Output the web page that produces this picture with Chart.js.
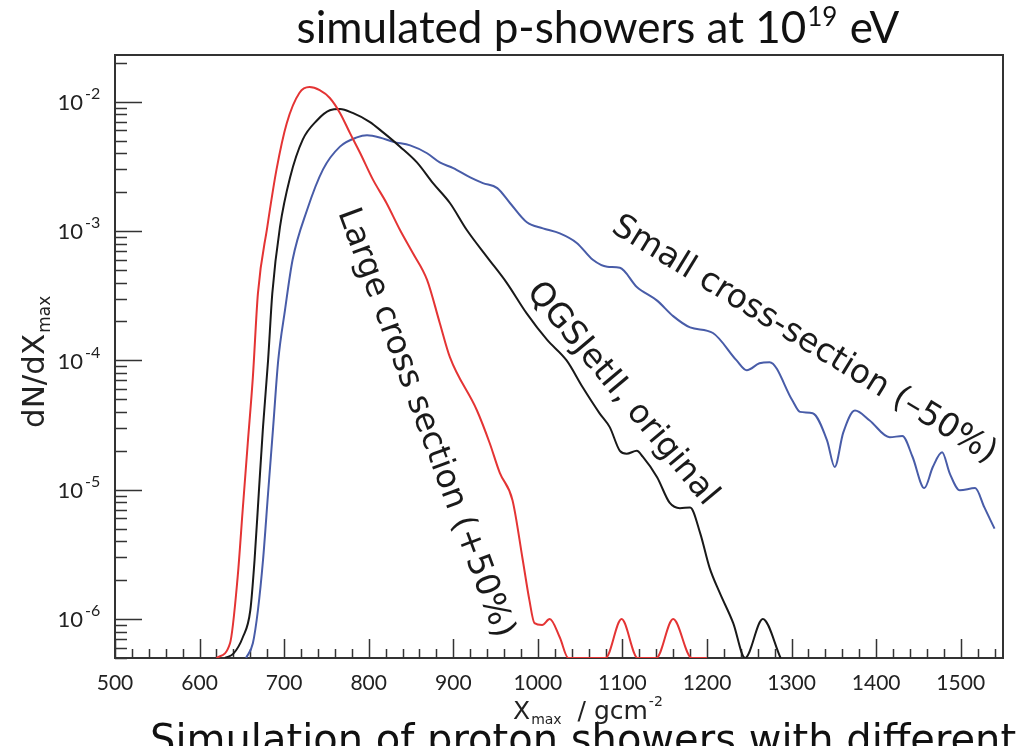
<!DOCTYPE html>
<html>
<head>
<meta charset="utf-8">
<script src="https://cdn.jsdelivr.net/npm/chart.js@4.4.1/dist/chart.umd.min.js"></script>
<style>
  html, body { margin: 0; padding: 0; background: #fff; }
  canvas { display: block; }
</style>
</head>
<body>
<canvas id="grafico" width="1016" height="746"></canvas>
<script>
// Large cross section (+50%)
var xRed = [620, 636, 645, 651, 657, 663, 669, 680, 691, 703, 718, 730, 742, 754, 766, 778, 790, 805, 821, 837, 852, 869, 884, 896, 928, 943, 955, 970, 982, 990, 996, 1005, 1014, 1026, 1036, 1080, 1099, 1118, 1140, 1160, 1182, 1200];
var yRed = [5e-7, 6.5e-7, 2.1e-6, 7e-6, 2.3e-5, 7.4e-5, 3.3e-4, 1.07e-3, 3.0e-3, 6.8e-3, 1.17e-2, 1.30e-2, 1.23e-2, 1.07e-2, 8.2e-3, 5.7e-3, 4.0e-3, 2.5e-3, 1.65e-3, 1.02e-3, 6.8e-4, 4.2e-4, 1.95e-4, 1.06e-4, 4.1e-5, 2.3e-5, 1.35e-5, 8.3e-6, 2.9e-6, 1.4e-6, 9.3e-7, 9.0e-7, 1.0e-6, 7.2e-7, 5e-7, 5e-7, 1.0e-6, 5e-7, 5e-7, 1.0e-6, 5e-7, 5e-7];

// QGSJetII, original
var xBlack = [630, 640, 651, 660, 665, 670, 675, 681, 686, 695, 707, 722, 739, 754, 766, 781, 801, 817, 837, 857, 876, 896, 916, 940, 963, 987, 1011, 1034, 1053, 1073, 1085, 1097, 1105, 1117, 1124, 1141, 1156, 1168, 1180, 1192, 1203, 1215, 1231, 1245, 1266, 1287];
var yBlack = [5e-7, 5.4e-7, 7.2e-7, 1.17e-6, 2.85e-6, 9.4e-6, 3.05e-5, 1.0e-4, 3.3e-4, 1.07e-3, 2.6e-3, 5.1e-3, 7.2e-3, 8.6e-3, 8.8e-3, 8.2e-3, 7.0e-3, 5.8e-3, 4.5e-3, 3.4e-3, 2.35e-3, 1.65e-3, 1.02e-3, 6.3e-4, 4.0e-4, 2.3e-4, 1.44e-4, 1.0e-4, 6.2e-5, 3.9e-5, 3.05e-5, 2.0e-5, 1.9e-5, 2.0e-5, 1.8e-5, 1.25e-5, 7.9e-6, 7.2e-6, 7.3e-6, 4.6e-6, 2.5e-6, 1.6e-6, 9.3e-7, 5e-7, 1.0e-6, 5e-7];

// Small cross-section (-50%)
var xBlue = [655, 663, 669, 675, 681, 687, 693, 701, 710, 727, 746, 766, 786, 798, 813, 829, 849, 869, 884, 900, 920, 935, 952, 967, 987, 1006, 1026, 1046, 1065, 1082, 1097, 1117, 1141, 1160, 1180, 1207, 1235, 1247, 1262, 1274, 1301, 1310, 1325, 1342, 1351, 1361, 1375, 1392, 1416, 1431, 1443, 1457, 1467, 1478, 1487, 1499, 1517, 1528, 1540];
var yBlue = [5e-7, 6.5e-7, 1.17e-6, 2.85e-6, 9.4e-6, 3.05e-5, 1.0e-4, 2.45e-4, 6.0e-4, 1.45e-3, 3.0e-3, 4.5e-3, 5.3e-3, 5.5e-3, 5.3e-3, 4.9e-3, 4.6e-3, 4.0e-3, 3.4e-3, 3.07e-3, 2.6e-3, 2.35e-3, 2.15e-3, 1.65e-3, 1.17e-3, 1.05e-3, 9.6e-4, 8.1e-4, 6.0e-4, 5.3e-4, 5.2e-4, 3.7e-4, 2.9e-4, 2.2e-4, 1.8e-4, 1.63e-4, 1.0e-4, 8.4e-5, 9.5e-5, 9.7e-5, 4.9e-5, 4.0e-5, 3.9e-5, 2.4e-5, 1.5e-5, 2.75e-5, 4.1e-5, 3.45e-5, 2.55e-5, 2.6e-5, 1.8e-5, 1.03e-5, 1.5e-5, 1.95e-5, 1.34e-5, 9.9e-6, 1.03e-5, 7.3e-6, 5.0e-6];

var xTicks = [500, 600, 700, 800, 900, 1000, 1100, 1200, 1300, 1400, 1500];
var yDecades = [-6, -5, -4, -3, -2];

var titulo = ['simulated p-showers at 10', '19', ' eV'];
var rotulos = [
  { texto: 'Large cross section (+50%)', cx: 425, cy: 423, ang: 69.7 },
  { texto: 'QGSJetII, original', cx: 622, cy: 394, ang: 50.2 },
  { texto: 'Small cross-section (\u201350%)', cx: 804, cy: 340, ang: 31.5 }
];

function junta(xs, ys) {
  return xs.map(function (x, i) { return { x: x, y: ys[i] }; });
}

function serie(nome, xs, ys, cor) {
  return {
    label: nome,
    data: junta(xs, ys),
    borderColor: cor,
    borderWidth: 2,
    pointRadius: 0,
    fill: false,
    cubicInterpolationMode: 'monotone'
  };
}

// frame and inside ticks, ROOT style
var moldura = {
  id: 'moldura',
  beforeDatasetsDraw: function (chart) {
    var ctx = chart.ctx, a = chart.chartArea, sx = chart.scales.x, sy = chart.scales.y;
    ctx.save();
    ctx.strokeStyle = '#333';
    ctx.lineWidth = 1.5;
    ctx.beginPath();
    for (var v = 500; v <= 1550; v += 20) {
      var px = Math.round(sx.getPixelForValue(v)) + 0.5;
      var len = (v % 100 === 0) ? 19 : 9;
      ctx.moveTo(px, a.bottom);
      ctx.lineTo(px, a.bottom - len);
    }
    for (var e = -7; e <= -1; e++) {
      for (var m = 1; m <= 9; m++) {
        var val = m * Math.pow(10, e);
        if (val < sy.min || val > sy.max) continue;
        var py = Math.round(sy.getPixelForValue(val)) + 0.5;
        ctx.moveTo(a.left, py);
        ctx.lineTo(a.left + (m === 1 ? 27 : 12), py);
      }
    }
    ctx.stroke();
    ctx.lineWidth = 2;
    ctx.strokeRect(a.left, a.top, a.right - a.left, a.bottom - a.top);
    ctx.restore();
  },
  afterDraw: function (chart) {
    var ctx = chart.ctx, sy = chart.scales.y;
    ctx.save();
    ctx.fillStyle = '#222';

    // y tick labels 10^-n
    yDecades.forEach(function (e) {
      var py = sy.getPixelForValue(Math.pow(10, e));
      ctx.font = '22px Lato';
      ctx.textAlign = 'right';
      ctx.textBaseline = 'middle';
      ctx.fillText('10', 83, py + 1);
      ctx.font = '16px Lato';
      ctx.textAlign = 'left';
      ctx.fillText('-' + (-e), 85, py - 8);
    });

    // title
    ctx.fillStyle = '#111';
    ctx.textBaseline = 'alphabetic';
    ctx.textAlign = 'left';
    ctx.font = '44px Lato';
    var w0 = ctx.measureText(titulo[0]).width;
    var w2 = ctx.measureText(titulo[2]).width;
    ctx.font = '26px Lato';
    var w1 = ctx.measureText(titulo[1]).width;
    var x0 = 597 - (w0 + w1 + w2) / 2;
    ctx.font = '44px Lato';
    ctx.fillText(titulo[0], x0, 43);
    ctx.fillText(titulo[2], x0 + w0 + w1 + 2, 43);
    ctx.font = '26px Lato';
    ctx.fillText(titulo[1], x0 + w0 + 1, 26);

    // caption below the figure, cut by the window edge
    ctx.fillStyle = '#111';
    ctx.font = '40px "DejaVu Sans"';
    ctx.fillText('Simulation of proton showers with different', 150, 753);

    // x axis title  X_max / gcm^-2
    ctx.fillStyle = '#222';
    var xx = 513, yb = 719;
    ctx.font = '25px "DejaVu Sans"';
    ctx.fillText('X', xx, yb);
    xx += ctx.measureText('X').width;
    ctx.font = '14px "DejaVu Sans"';
    ctx.fillText('max', xx + 1, yb + 5);
    xx += ctx.measureText('max').width + 1;
    ctx.font = '25px "DejaVu Sans"';
    ctx.fillText('  / gcm', xx, yb);
    xx += ctx.measureText('  / gcm').width;
    ctx.font = '14px "DejaVu Sans"';
    ctx.fillText('-2', xx + 1, yb - 13);

    // y axis title dN/dX_max
    ctx.save();
    ctx.translate(44, 428);
    ctx.rotate(-Math.PI / 2);
    ctx.font = '31px "DejaVu Sans"';
    ctx.fillText('dN/dX', 0, 0);
    var wy = ctx.measureText('dN/dX').width;
    ctx.font = '17px "DejaVu Sans"';
    ctx.fillText('max', wy + 1, 6);
    ctx.restore();

    // curve labels
    ctx.fillStyle = '#1a1a1a';
    ctx.font = '33px "DejaVu Sans"';
    ctx.textAlign = 'center';
    ctx.textBaseline = 'middle';
    rotulos.forEach(function (r) {
      ctx.save();
      ctx.translate(r.cx, r.cy);
      ctx.rotate(r.ang * Math.PI / 180);
      ctx.fillText(r.texto, 0, 0);
      ctx.restore();
    });
    ctx.restore();
  }
};

var config = {
  type: 'line',
  data: {
    datasets: [
      serie('Large cross section (+50%)', xRed, yRed, 'rgb(228, 52, 52)'),
      serie('QGSJetII, original', xBlack, yBlack, 'rgb(25, 25, 25)'),
      serie('Small cross-section (-50%)', xBlue, yBlue, 'rgb(72, 92, 168)')
    ]
  },
  options: {
    responsive: false,
    animation: false,
    layout: { padding: { left: 0, right: 13, top: 55, bottom: 0 } },
    plugins: { legend: { display: false }, tooltip: { enabled: false }, title: { display: false } },
    scales: {
      x: {
        type: 'linear',
        min: 500,
        max: 1550,
        grid: { display: false },
        border: { display: false },
        afterFit: function (s) { s.height = 88; },
        afterBuildTicks: function (s) { s.ticks = xTicks.map(function (v) { return { value: v }; }); },
        ticks: {
          autoSkip: false,
          maxRotation: 0,
          padding: 5,
          color: '#222',
          font: { family: 'Lato', size: 21 },
          callback: function (v) { return String(v); }
        }
      },
      y: {
        type: 'logarithmic',
        min: 5e-7,
        max: 0.023,
        grid: { display: false },
        border: { display: false },
        ticks: { display: false },
        afterFit: function (s) { s.width = 115; }
      }
    }
  },
  plugins: [moldura]
};

var grafico = new Chart(document.getElementById('grafico'), config);
</script>
</body>
</html>
